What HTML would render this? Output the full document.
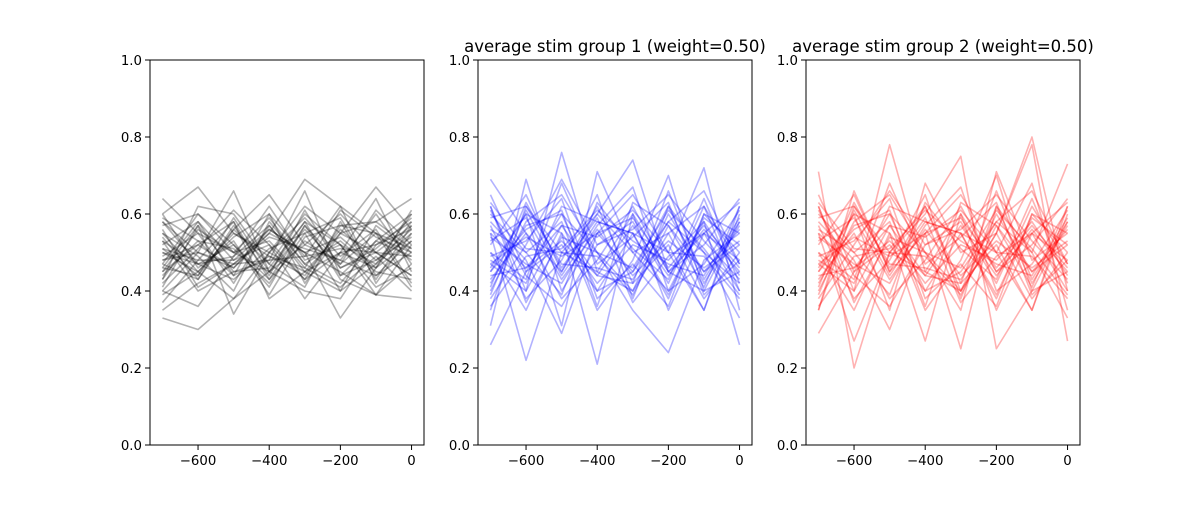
<!DOCTYPE html>
<html><head><meta charset="utf-8"><style>
html,body{margin:0;padding:0;background:#fff;}
svg text{font-family:"DejaVu Sans","Liberation Sans",sans-serif;fill:#000;}
</style></head><body>
<svg id="fig" width="1200" height="500" xmlns="http://www.w3.org/2000/svg"></svg>
<script>
const xValues = [-700,-600,-500,-400,-300,-200,-100,0];
const xTicks = [-600,-400,-200,0];
const yTicks = [0,0.2,0.4,0.6,0.8,1.0];
const titles = ["", "average stim group 1 (weight=0.50)", "average stim group 2 (weight=0.50)"];
const colors = ["#000000","#0000ff","#ff0000"];
const blackSeries = [
[0.64,0.55,0.50,0.45,0.58,0.52,0.47,0.60],
[0.33,0.30,0.38,0.45,0.52,0.48,0.44,0.50],
[0.35,0.42,0.47,0.55,0.69,0.62,0.55,0.48],
[0.60,0.67,0.55,0.50,0.45,0.40,0.47,0.55],
[0.58,0.50,0.66,0.45,0.40,0.38,0.52,0.58],
[0.55,0.45,0.38,0.50,0.62,0.55,0.67,0.56],
[0.48,0.52,0.46,0.55,0.50,0.33,0.46,0.53],
[0.37,0.48,0.58,0.38,0.45,0.55,0.58,0.64],
[0.51,0.48,0.48,0.56,0.50,0.45,0.39,0.38],
[0.45,0.57,0.34,0.50,0.59,0.49,0.56,0.42],
[0.40,0.36,0.49,0.62,0.48,0.52,0.39,0.47],
[0.50,0.47,0.52,0.41,0.57,0.47,0.61,0.52],
[0.57,0.60,0.50,0.53,0.43,0.50,0.46,0.61],
[0.46,0.44,0.56,0.65,0.52,0.60,0.50,0.44],
[0.53,0.40,0.45,0.48,0.66,0.44,0.53,0.49],
[0.43,0.62,0.60,0.47,0.41,0.58,0.43,0.57],
[0.49,0.55,0.42,0.57,0.46,0.41,0.49,0.40],
[0.60,0.46,0.53,0.39,0.54,0.57,0.55,0.51],
[0.42,0.51,0.61,0.52,0.38,0.50,0.64,0.45],
[0.52,0.58,0.44,0.60,0.49,0.62,0.42,0.55],
[0.47,0.43,0.57,0.44,0.61,0.46,0.51,0.59],
[0.55,0.49,0.40,0.58,0.47,0.53,0.45,0.43],
[0.44,0.53,0.51,0.42,0.55,0.40,0.57,0.50],
[0.39,0.45,0.55,0.49,0.44,0.56,0.48,0.54],
[0.56,0.41,0.47,0.54,0.51,0.48,0.60,0.47],
[0.48,0.50,0.47,0.48,0.49,0.51,0.50,0.49],
[0.53,0.47,0.49,0.57,0.45,0.50,0.52,0.56],
[0.41,0.57,0.45,0.46,0.58,0.43,0.39,0.52],
[0.50,0.45,0.54,0.60,0.42,0.55,0.50,0.57],
[0.45,0.52,0.58,0.43,0.53,0.47,0.55,0.41],
[0.58,0.47,0.43,0.51,0.55,0.59,0.44,0.53],
[0.43,0.56,0.50,0.59,0.47,0.42,0.53,0.60],
[0.54,0.43,0.56,0.47,0.60,0.52,0.41,0.46],
[0.46,0.58,0.48,0.52,0.43,0.57,0.58,0.51],
[0.51,0.44,0.59,0.45,0.56,0.46,0.50,0.44],
[0.40,0.50,0.46,0.56,0.50,0.54,0.46,0.58],
[0.59,0.53,0.44,0.49,0.46,0.61,0.54,0.50],
[0.47,0.60,0.52,0.43,0.57,0.44,0.48,0.56]
];
const blueSeries = [
[0.26,0.45,0.60,0.40,0.55,0.50,0.35,0.62],
[0.69,0.55,0.45,0.60,0.50,0.40,0.58,0.26],
[0.31,0.69,0.40,0.55,0.45,0.62,0.50,0.42],
[0.62,0.40,0.76,0.45,0.60,0.35,0.55,0.48],
[0.55,0.22,0.50,0.60,0.74,0.45,0.40,0.58],
[0.45,0.60,0.31,0.71,0.50,0.55,0.62,0.40],
[0.50,0.35,0.55,0.21,0.60,0.45,0.52,0.64],
[0.40,0.58,0.65,0.50,0.35,0.24,0.48,0.55],
[0.58,0.48,0.29,0.55,0.65,0.50,0.72,0.35],
[0.35,0.62,0.50,0.45,0.40,0.60,0.45,0.52],
[0.60,0.50,0.58,0.35,0.48,0.70,0.40,0.45],
[0.48,0.42,0.62,0.58,0.55,0.38,0.60,0.50],
[0.52,0.65,0.45,0.62,0.42,0.52,0.35,0.60],
[0.43,0.55,0.38,0.48,0.62,0.45,0.55,0.40],
[0.65,0.45,0.52,0.40,0.45,0.58,0.50,0.33],
[0.38,0.52,0.69,0.52,0.58,0.42,0.62,0.47],
[0.57,0.38,0.48,0.65,0.38,0.62,0.42,0.57],
[0.46,0.60,0.55,0.42,0.52,0.48,0.58,0.44],
[0.54,0.47,0.42,0.57,0.67,0.40,0.47,0.61],
[0.42,0.57,0.60,0.50,0.40,0.55,0.38,0.50],
[0.61,0.44,0.36,0.52,0.56,0.65,0.53,0.43],
[0.49,0.53,0.64,0.38,0.47,0.36,0.60,0.55],
[0.36,0.49,0.51,0.61,0.53,0.47,0.44,0.59],
[0.59,0.62,0.47,0.46,0.43,0.58,0.66,0.47],
[0.47,0.40,0.57,0.54,0.61,0.50,0.49,0.38],
[0.53,0.59,0.43,0.56,0.44,0.53,0.46,0.53],
[0.44,0.46,0.53,0.44,0.57,0.44,0.56,0.45],
[0.63,0.51,0.50,0.49,0.39,0.57,0.41,0.62],
[0.50,0.43,0.68,0.47,0.54,0.63,0.39,0.48],
[0.41,0.63,0.46,0.59,0.37,0.49,0.55,0.63],
[0.56,0.50,0.39,0.63,0.51,0.43,0.64,0.42],
[0.45,0.56,0.61,0.36,0.63,0.57,0.45,0.56],
[0.62,0.37,0.54,0.50,0.46,0.61,0.51,0.39],
[0.39,0.61,0.44,0.58,0.55,0.39,0.59,0.52],
[0.55,0.46,0.57,0.44,0.42,0.66,0.43,0.58],
[0.47,0.54,0.49,0.55,0.59,0.46,0.57,0.46]
];
const redSeries = [
[0.29,0.45,0.60,0.40,0.55,0.50,0.35,0.62],
[0.71,0.20,0.50,0.62,0.40,0.55,0.78,0.27],
[0.35,0.66,0.45,0.55,0.25,0.62,0.50,0.73],
[0.62,0.40,0.78,0.45,0.60,0.35,0.55,0.48],
[0.55,0.27,0.50,0.60,0.75,0.25,0.40,0.58],
[0.45,0.60,0.35,0.68,0.50,0.55,0.80,0.40],
[0.50,0.35,0.55,0.27,0.60,0.45,0.52,0.64],
[0.40,0.58,0.65,0.50,0.35,0.71,0.48,0.55],
[0.58,0.48,0.30,0.55,0.65,0.50,0.68,0.35],
[0.35,0.62,0.50,0.45,0.40,0.60,0.45,0.52],
[0.60,0.50,0.58,0.35,0.48,0.70,0.40,0.45],
[0.48,0.42,0.62,0.58,0.55,0.38,0.60,0.50],
[0.52,0.65,0.45,0.62,0.42,0.52,0.35,0.60],
[0.43,0.55,0.38,0.48,0.62,0.45,0.55,0.40],
[0.65,0.45,0.52,0.40,0.45,0.58,0.50,0.33],
[0.38,0.52,0.66,0.52,0.58,0.42,0.62,0.47],
[0.57,0.38,0.48,0.65,0.38,0.62,0.42,0.57],
[0.46,0.60,0.55,0.42,0.52,0.48,0.58,0.44],
[0.54,0.47,0.42,0.57,0.67,0.40,0.47,0.61],
[0.42,0.57,0.60,0.50,0.40,0.55,0.38,0.50],
[0.61,0.44,0.36,0.52,0.56,0.65,0.53,0.43],
[0.49,0.53,0.64,0.38,0.47,0.36,0.60,0.55],
[0.36,0.49,0.51,0.61,0.53,0.47,0.44,0.59],
[0.59,0.62,0.47,0.46,0.43,0.58,0.66,0.47],
[0.47,0.40,0.57,0.54,0.61,0.50,0.49,0.38],
[0.53,0.59,0.43,0.56,0.44,0.53,0.46,0.53],
[0.44,0.46,0.53,0.44,0.57,0.44,0.56,0.45],
[0.63,0.51,0.50,0.49,0.39,0.57,0.41,0.62],
[0.50,0.43,0.68,0.47,0.54,0.63,0.39,0.48],
[0.41,0.63,0.46,0.59,0.37,0.49,0.55,0.63],
[0.56,0.50,0.39,0.63,0.51,0.43,0.64,0.42],
[0.45,0.56,0.61,0.36,0.63,0.57,0.45,0.56],
[0.62,0.37,0.54,0.50,0.46,0.61,0.51,0.39],
[0.39,0.61,0.44,0.58,0.55,0.39,0.59,0.52],
[0.55,0.46,0.57,0.44,0.42,0.66,0.43,0.58],
[0.47,0.54,0.49,0.55,0.59,0.46,0.57,0.46]
];
const allSeries = [blackSeries, blueSeries, redSeries];

const NS = "http://www.w3.org/2000/svg";
const svg = document.getElementById("fig");
const panelLefts = [150, 478, 806];
const W = 274, TOP = 60, BOT = 445;
const xMin = -735, xMax = 35;
function mk(tag, attrs, parent){const e=document.createElementNS(NS,tag);for(const k in attrs)e.setAttribute(k,attrs[k]);parent.appendChild(e);return e;}
function fmt(v){return (v<0?"\u2212":"")+Math.abs(v);}

panelLefts.forEach((L, p) => {
  const xs = v => L + (v - xMin) / (xMax - xMin) * W;
  const ys = v => BOT - v * (BOT - TOP);
  const g = mk("g", {}, svg);
  
  
  allSeries[p].forEach((s, i) => {
    const pts = s.map((v, j) => xs(xValues[j]).toFixed(2) + "," + ys(v).toFixed(2)).join(" ");
    const pl = mk("polyline", {points: pts, fill: "none", stroke: colors[p], "stroke-opacity": 0.3, "stroke-width": 1.6, "stroke-linejoin": "round"}, g);
    
    
  });
  const frame = mk("rect", {x: L, y: TOP, width: W, height: BOT - TOP, fill: "none", stroke: "#000", "stroke-width": 1}, g);
  
  
  yTicks.forEach(t => {
    const y = ys(t);
    mk("line", {x1: L - 5, x2: L, y1: y, y2: y, stroke: "#000", "stroke-width": 1}, g);
    const tx = mk("text", {x: L - 8, y: y + 5, "text-anchor": "end", "font-size": "13.3"}, g);
    tx.textContent = t.toFixed(1);
    
    
  });
  xTicks.forEach(t => {
    const x = xs(t);
    mk("line", {x1: x, x2: x, y1: BOT, y2: BOT + 5, stroke: "#000", "stroke-width": 1}, g);
    const tx = mk("text", {x: x, y: BOT + 20, "text-anchor": "middle", "font-size": "13.3"}, g);
    tx.textContent = fmt(t);
    
    
  });
  if (titles[p]) {
    const tt = mk("text", {x: L + W / 2, y: TOP - 8, "text-anchor": "middle", "font-size": "16.5"}, g);
    tt.textContent = titles[p];
    
    
  }
});
</script>
</body></html>
